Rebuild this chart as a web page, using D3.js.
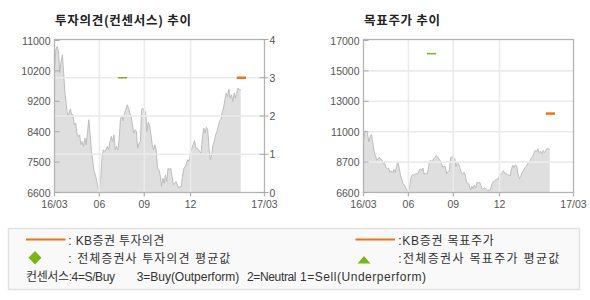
<!DOCTYPE html>
<html><head><meta charset="utf-8">
<script src="https://cdn.jsdelivr.net/npm/d3@7"></script>
<style>body{margin:0;background:#fff}svg{display:block}</style>
</head><body>
<svg id="c" width="590" height="300"></svg>
<script>
// ---- data ----
const prices = [10150,10731,10827,10682,10057,10393,10587,10007,9428,9139,8800,8898,9023,8849,8849,8560,8608,8319,8221,8270,
7981,8076,7932,8175,7981,8366,8705,8270,7787,7497,7208,7112,6918,6727,6678,7017,7642,7836,7787,7836,
7932,7836,8076,8221,8076,8270,7836,7932,7836,8175,8754,8800,8676,8898,8994,9139,9043,8898,8800,8560,
8319,8415,8366,7884,8030,8076,8994,9043,8898,8945,8366,8637,8560,8270,
7981,7836,7981,7836,7306,7258,7112,6774,7017,6872,7112,6918,7306,7258,7306,7063,6823,6872,6918,6823,
6727,6774,6774,7112,7306,7353,7451,7549,7497,7787,7884,7981,8097,7884,7884,7836,7787,7740,8175,8464,
8319,8484,8415,7884,7549,7691,7981,8076,8270,8366,8511,8676,8705,8945,9043,9282,9478,9379,9594,9331,
9428,9235,9478,9331,9478,9623,9573,9573];
const dayDomain = [0, 159];
const dayTicks = [0, 34, 68, 103, 159];
const dayTickLabels = ["16/03","06","09","12","17/03"];
const opinionTicks = [0,1,2,3,4];
const leftPriceTicks = [6600,7480,8360,9240,10120,11000];
const leftPriceLabels = ["6600","7500","8400","9200","10200","11000"];
const rightPriceTicks = [6600,8680,10760,12840,14920,17000];
const rightPriceLabels = ["6600","8700","11000","13000","15000","17000"];
const kbOpinion = [{from:138,to:145,value:3}];
const avgOpinion = [{from:48,to:55,value:3}];
const kbTarget = [{from:138,to:145,value:12000}];
const avgTarget = [{from:48,to:55,value:16100}];

// ---- drawing ----
const svg = d3.select("#c");
const FONT = "'Liberation Sans','Noto Sans CJK KR',sans-serif";
const KFONT = "'Noto Sans CJK KR','Liberation Sans',sans-serif";
const ORANGE = "#f07318", GREEN = "#7cb518";
const plotTop = 39.5, plotBottom = 192.5;

function panel(x0, x1, priceDomain, pTicks, pLabels, useOpinion, title, titleW, kb, avg) {
  const g = svg.append("g");
  const x = d3.scaleLinear().domain(dayDomain).range([x0, x1]);
  const y = d3.scaleLinear().domain(priceDomain).range([plotBottom, plotTop + 1]);
  const yo = d3.scaleLinear().domain([0, 4]).range([plotBottom, plotTop]);
  const area = d3.area().x((d,i)=>x(i)).y0(plotBottom).y1(d=>y(d));
  g.append("path").datum(prices).attr("d", area).attr("fill", "#dfdfdf");
  g.append("path").datum(prices).attr("d", d3.line().x((d,i)=>x(i)).y(d=>y(d)))
    .attr("fill","none").attr("stroke","#bdbdbd").attr("stroke-width",1);
  const gridY = useOpinion ? opinionTicks.slice(1,4).map(v=>yo(v)) : pTicks.slice(1,5).map(v=>y(v));
  g.selectAll(".gy").data(gridY).join("line")
    .attr("x1", x0).attr("x2", x1).attr("y1", d=>d).attr("y2", d=>d)
    .attr("stroke", "#ebebeb").attr("stroke-width", 1.6);
  g.selectAll(".gx").data(dayTicks.slice(1,4)).join("line")
    .attr("x1", d=>x(d)).attr("x2", d=>x(d)).attr("y1", plotTop).attr("y2", plotBottom)
    .attr("stroke", "#ebebeb").attr("stroke-width", 1.6);
  g.append("rect").attr("x", x0).attr("y", plotTop).attr("width", x1-x0).attr("height", plotBottom-plotTop)
    .attr("fill","none").attr("stroke","#b4b4b4").attr("stroke-width",1.3);
  g.selectAll(".lt").data(pTicks).join("line")
    .attr("x1", x0).attr("x2", x0+5).attr("y1", d=>y(d)).attr("y2", d=>y(d))
    .attr("stroke","#aaa");
  g.selectAll(".ll").data(pTicks).join("text")
    .attr("x", x0-4).attr("y", d=>y(d)+4).attr("text-anchor","end")
    .attr("font-family", FONT).attr("font-size", 10.5).attr("fill","#555")
    .text((d,i)=>pLabels[i]);
  g.selectAll(".bt").data(dayTicks).join("line")
    .attr("x1", d=>x(d)).attr("x2", d=>x(d)).attr("y1", plotBottom).attr("y2", plotBottom+4)
    .attr("stroke","#b4b4b4").attr("stroke-width",1.3);
  g.selectAll(".bl").data(dayTicks).join("text")
    .attr("x", d=>x(d)).attr("y", 208).attr("text-anchor","middle")
    .attr("font-family", FONT).attr("font-size", 10.5).attr("fill","#555")
    .text((d,i)=>dayTickLabels[i]);
  if (useOpinion) {
    g.selectAll(".rt").data(opinionTicks).join("line")
      .attr("x1", x1-5).attr("x2", x1+4).attr("y1", d=>yo(d)).attr("y2", d=>yo(d))
      .attr("stroke","#aaa");
    g.selectAll(".rl").data(opinionTicks).join("text")
      .attr("x", x1+5).attr("y", d=>yo(d)+4)
      .attr("font-family", FONT).attr("font-size", 10.5).attr("fill","#555")
      .text(d=>d);
  }
  const ys = useOpinion ? yo : y;
  g.selectAll(".avg").data(avg).join("line")
    .attr("x1", d=>x(d.from)).attr("x2", d=>x(d.to)).attr("y1", d=>ys(d.value)).attr("y2", d=>ys(d.value))
    .attr("stroke", GREEN).attr("stroke-width", 1.5);
  g.selectAll(".kb").data(kb).join("line")
    .attr("x1", d=>x(d.from)).attr("x2", d=>x(d.to)).attr("y1", d=>ys(d.value)).attr("y2", d=>ys(d.value))
    .attr("stroke", ORANGE).attr("stroke-width", 2.5);
  svg.append("text").attr("x", x0+0.5).attr("y", 25).attr("font-family", KFONT)
    .attr("font-weight","bold").attr("font-size", 12.5).attr("fill","#222")
    .attr("textLength", titleW).text(title);
}

panel(54.5, 264.5, [6600, 11000], leftPriceTicks, leftPriceLabels, true, "투자의견(컨센서스) 추이", 136, kbOpinion, avgOpinion);
panel(363.5, 573.5, [6600, 17000], rightPriceTicks, rightPriceLabels, false, "목표주가 추이", 76, kbTarget, avgTarget);

// ---- legend ----
const lg = svg.append("g");
lg.append("rect").attr("x", 8.5).attr("y", 228.5).attr("width", 571).attr("height", 61)
  .attr("fill","#f9f9f9").attr("stroke","#e2e2e2").attr("stroke-width",1.5);
lg.append("line").attr("x1",26).attr("x2",65.5).attr("y1",239.5).attr("y2",239.5).attr("stroke",ORANGE).attr("stroke-width",2);
lg.append("line").attr("x1",355.5).attr("x2",395).attr("y1",239.5).attr("y2",239.5).attr("stroke",ORANGE).attr("stroke-width",2);
lg.append("path").attr("d","M35,251 L41.5,257.7 L35,264.4 L28.5,257.7 Z").attr("fill",GREEN);
lg.append("path").attr("d","M357.5,263.5 L364,256 L370.5,263.5 Z").attr("fill",GREEN);
const legendTexts = [
  {t:": KB증권 투자의견", x:68.3, y:245, w:96},
  {t:": 전체증권사 투자의견 평균값", x:68.3, y:263, w:162},
  {t:"컨센서스:4=S/Buy", x:26, y:280.5, w:89},
  {t:"3=Buy(Outperform)", x:136.7, y:280.5, w:102.5},
  {t:"2=Neutral", x:247, y:280.5, w:49.5},
  {t:"1=Sell(Underperform)", x:300, y:280.5, w:126},
  {t:":KB증권 목표주가", x:398.3, y:245, w:95.5},
  {t:":전체증권사 목표주가 평균값", x:398.3, y:263, w:161}
];
lg.selectAll(".lt").data(legendTexts).join("text")
  .attr("x", d=>d.x).attr("y", d=>d.y).attr("textLength", d=>d.w)
  .attr("font-family", FONT).attr("font-size", 12).attr("fill","#333")
  .text(d=>d.t);
</script>
</body></html>
